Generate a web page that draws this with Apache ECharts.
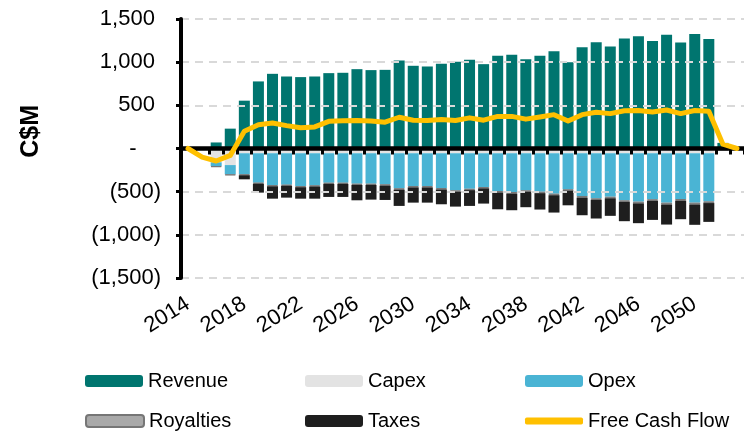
<!DOCTYPE html>
<html>
<head>
<meta charset="utf-8">
<script src="https://cdn.jsdelivr.net/npm/echarts@6/dist/echarts.min.js"></script>
<style>
  html, body { margin: 0; padding: 0; background: #fff; }
  #chart { width: 744px; height: 433px; }
</style>
</head>
<body>
<div id="chart"></div>
<script>
// years 2014..2053 (the last one is cut off by the frame)
const years = [];
for (let y = 2014; y <= 2053; y++) years.push(String(y));

const revenue = [0, 0, 70, 230, 554, 777, 865, 834, 827, 834, 873, 877, 919, 908, 911, 1019, 958, 950, 981, 1004,
  1027, 977, 1073, 1085, 1035, 1073, 1127, 1000, 1173, 1231, 1181, 1273, 1300, 1246, 1319, 1227, 1327, 1269, 65, 0];
const capex = [0, 0, -160, -192, -55, -55, -55, -55, -55, -55, -55, -55, -55, -55, -55, -55, -55, -55, -55, -55,
  -55, -55, -55, -55, -55, -55, -55, -55, -55, -55, -55, -55, -55, -55, -55, -55, -55, -55, -15, 0];
const opex = [0, 0, -45, -108, -245, -341, -368, -364, -380, -372, -341, -341, -352, -352, -360, -406, -380, -380, -403, -430,
  -411, -391, -437, -449, -430, -445, -468, -418, -495, -522, -503, -545, -560, -533, -572, -530, -572, -557, 0, 0];
const royalties = [0, 0, -10, -10, -10, -12, -14, -13, -13, -13, -14, -14, -15, -15, -15, -16, -15, -15, -16, -16,
  -16, -15, -17, -17, -16, -17, -18, -16, -18, -19, -18, -20, -20, -19, -21, -19, -21, -20, 0, 0];
const taxes = [0, 0, 0, 0, -47, -103, -144, -137, -133, -141, -151, -151, -178, -170, -166, -188, -177, -177, -172, -172,
  -183, -177, -195, -194, -179, -190, -201, -169, -205, -215, -204, -222, -230, -220, -233, -215, -236, -218, 0, 0];
const freeCashFlow = [0, -100, -145, -80, 200, 275, 295, 265, 240, 250, 315, 322, 325, 318, 305, 362, 328, 325, 335, 325,
  355, 328, 372, 372, 340, 365, 392, 318, 392, 419, 404, 437, 440, 423, 446, 404, 440, 431, 50, 0];

const FONT = 'Liberation Sans, Arial, sans-serif';

function fmtAxis(v) {
  const s = String(Math.abs(v)).replace(/\B(?=(\d{3})+(?!\d))/g, ',');
  if (v === 0) return '-    ';
  if (v < 0) return '(' + s + ')';
  return s + ' ';
}

function barSeries(name, data, color, extra) {
  return Object.assign({
    name: name,
    type: 'bar',
    stack: 'cf',
    data: data,
    barWidth: 11,
    itemStyle: { color: color },
    z: 2
  }, extra || {});
}

function legendAt(name, left, top, extra) {
  return Object.assign({
    data: [name],
    left: left,
    top: top,
    padding: 0,
    itemWidth: 58,
    itemHeight: 12,
    selectedMode: false,
    textStyle: { fontFamily: FONT, fontSize: 20, color: '#000' }
  }, extra || {});
}

const chart = echarts.init(document.getElementById('chart'));

chart.setOption({
  animation: false,
  backgroundColor: '#fff',
  grid: { left: 181, top: 19, width: 573, bottom: 155, containLabel: false },
  legend: [
    legendAt('Revenue', 85, 371),
    legendAt('Capex', 305, 371),
    legendAt('Opex', 525, 371),
    legendAt('Royalties', 85, 411),
    legendAt('Taxes', 305, 411),
    legendAt('Free Cash Flow', 525, 411, { icon: 'roundRect', itemHeight: 7 })
  ],
  graphic: [{
    type: 'text',
    left: 19,
    top: 105,
    rotation: Math.PI / 2,
    style: { text: 'C$M', font: 'bold 25px ' + FONT, fill: '#000' }
  }],
  xAxis: [{
    type: 'category',
    data: years,
    z: 10,
    axisLine: { onZero: true, lineStyle: { color: '#000', width: 4.5 } },
    axisTick: { show: true, interval: 0, length: 6, lineStyle: { color: '#000', width: 3 } },
    axisLabel: { show: false },
    splitLine: { show: false }
  }, {
    type: 'category',
    data: years,
    position: 'bottom',
    axisLine: { show: false, onZero: false },
    axisTick: { show: false },
    axisLabel: {
      interval: 3,
      rotate: 32,
      margin: 24,
      fontFamily: FONT,
      fontSize: 22,
      color: '#000'
    },
    splitLine: { show: false }
  }],
  yAxis: {
    type: 'value',
    min: -1500,
    max: 1500,
    interval: 500,
    z: 10,
    axisLine: { show: true, lineStyle: { color: '#000', width: 4 } },
    axisTick: { show: true, length: 5, lineStyle: { color: '#000', width: 3 } },
    axisLabel: {
      formatter: fmtAxis,
      margin: 20,
      fontFamily: FONT,
      fontSize: 22,
      color: '#000'
    },
    splitLine: { show: true, lineStyle: { color: '#d9d9d9', width: 2, type: [8, 6] } }
  },
  series: [
    barSeries('Revenue', revenue, '#00756f'),
    barSeries('Capex', capex, '#e3e3e3'),
    barSeries('Opex', opex, '#4ab4d4'),
    barSeries('Royalties', royalties, '#a9a9a9', {
      itemStyle: { color: '#a9a9a9', borderColor: '#767676', borderWidth: 1 }
    }),
    barSeries('Taxes', taxes, '#1e1e1e'),
    {
      name: 'Free Cash Flow',
      type: 'line',
      data: freeCashFlow,
      symbol: 'none',
      z: 20,
      lineStyle: { color: '#ffc000', width: 5, cap: 'round', join: 'round' },
      itemStyle: { color: '#ffc000' }
    }
  ]
});
</script>
</body>
</html>
